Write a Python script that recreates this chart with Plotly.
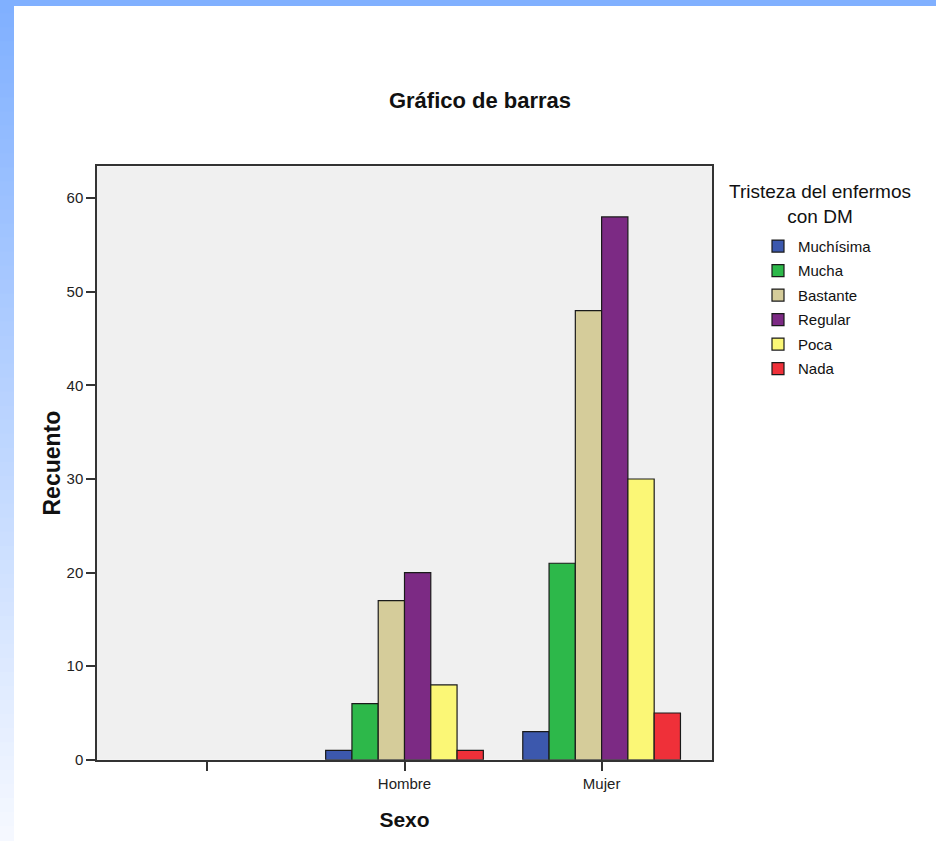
import plotly.graph_objects as go

# ---- data ----
categories = [" ", "Hombre", "Mujer"]
series_names = ["Muchísima", "Mucha", "Bastante", "Regular", "Poca", "Nada"]
muchisima = [None, 1, 3]
mucha = [None, 6, 21]
bastante = [None, 17, 48]
regular = [None, 20, 58]
poca = [None, 8, 30]
nada = [None, 1, 5]
series_values = [muchisima, mucha, bastante, regular, poca, nada]
y_ticks = [0, 10, 20, 30, 40, 50, 60]

colors = ["#3c58ad", "#2db84a", "#d5cc9a", "#7c2a84", "#fbf776", "#ef3039"]

W, H = 936, 849
FONT = "Liberation Sans, Arial, sans-serif"

fig = go.Figure()
for i, (name, vals) in enumerate(zip(series_names, series_values)):
    fig.add_trace(go.Bar(
        x=categories, y=vals, name=name,
        marker=dict(color=colors[i], line=dict(color="#1a1a1a", width=1.2)),
        legendgroup=name,
    ))

# slide background: top band + left gradient band
shapes = [dict(type="rect", xref="paper", yref="paper", x0=0, x1=1, y0=1 - 6 / H, y1=1,
               fillcolor="#80b0ff", line=dict(width=0), layer="below")]
n = 60
c0 = (0x80, 0xb0, 0xff)
c1 = (0xf5, 0xf8, 0xff)
for k in range(n):
    t = k / (n - 1)
    c = tuple(int(round(c0[j] + (c1[j] - c0[j]) * t)) for j in range(3))
    shapes.append(dict(type="rect", xref="paper", yref="paper",
                       x0=0, x1=14 / W,
                       y0=1 - (k + 1) / n, y1=1 - k / n + 0.001,
                       fillcolor="rgb(%d,%d,%d)" % c, line=dict(width=0), layer="below"))

fig.update_layout(
    width=W, height=H,
    margin=dict(l=0, r=0, t=0, b=0),
    paper_bgcolor="white",
    plot_bgcolor="#f0f0f0",
    font=dict(family=FONT, size=14, color="#222"),
    barmode="group",
    bargap=0.2,
    bargroupgap=0,
    shapes=shapes,
    title=dict(text="<b>Gráfico de barras</b>", x=480 / W, xanchor="center",
               y=1 - 100 / H, yanchor="middle",
               font=dict(family=FONT, size=22, color="#111")),
    showlegend=True,
    legend=dict(
        x=758 / W, xanchor="left", y=1 - 232 / H, yanchor="top",
        bgcolor="rgba(0,0,0,0)", font=dict(family=FONT, size=15, color="#111"),
        traceorder="grouped", tracegroupgap=2,
        itemclick=False, itemdoubleclick=False,
    ),
    annotations=[dict(text="Tristeza del enfermos<br>con DM", xref="paper", yref="paper",
                      x=820 / W, y=1 - 181 / H, xanchor="center", yanchor="top",
                      showarrow=False, align="center",
                      font=dict(family=FONT, size=19, color="#111"))],
)

fig.update_xaxes(
    domain=[97 / W, 712 / W],
    type="category", categoryorder="array", categoryarray=categories,
    range=[-0.56, 2.56],
    showline=True, linecolor="#333", linewidth=1.5, mirror=True,
    ticks="outside", ticklen=9, tickcolor="#333", tickwidth=1.5,
    tickfont=dict(family=FONT, size=15, color="#222"),
    showgrid=False,
    title=dict(text="<b>Sexo</b>", font=dict(family=FONT, size=21, color="#111"), standoff=22),
)
fig.update_yaxes(
    domain=[1 - 767 / H, 1 - 168 / H],
    range=[0, 63.4],
    tickvals=y_ticks,
    showline=True, linecolor="#333", linewidth=1.5, mirror=True,
    ticks="outside", ticklen=9, tickcolor="#333", tickwidth=1.5,
    tickfont=dict(family=FONT, size=15, color="#222"),
    showgrid=False, zeroline=False,
    title=dict(text="<b>Recuento</b>", font=dict(family=FONT, size=23, color="#111"), standoff=0),
)

fig.write_html("out.html", config={"displayModeBar": False},
               post_script="document.body.style.margin='0';")
